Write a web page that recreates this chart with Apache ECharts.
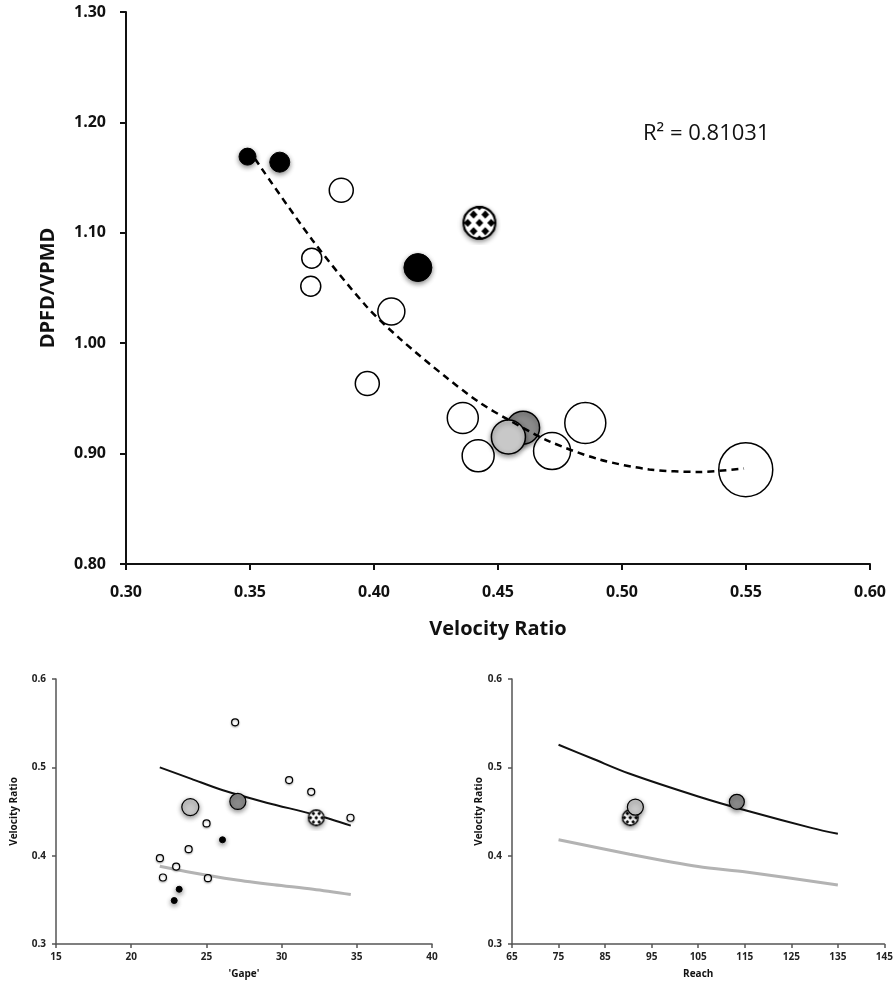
<!DOCTYPE html>
<html>
<head>
<meta charset="utf-8">
<script src="https://cdn.jsdelivr.net/npm/echarts@6/dist/echarts.min.js"></script>
<style>
html,body{margin:0;padding:0;background:#fff;}
#chart{width:896px;height:983px;}
</style>
</head>
<body>
<div id="chart"></div>
<script>
// ---------- DATA ----------
// Top panel: [Velocity Ratio, DPFD/VPMD, bubble size]
const topOpen = [[0.3868,1.1386,24],[0.3749,1.077,20],[0.3745,1.0516,20],[0.407,1.0287,27],[0.3973,0.9634,24],[0.4358,0.9322,31],[0.442,0.898,32],[0.4718,0.9023,37],[0.4852,0.9277,41],[0.5499,0.8854,54]];
const topBlack = [[0.349,1.169,17],[0.362,1.164,20],[0.4177,1.0685,28]];
const topDark = [[0.4601,0.9235,33]];
const topLight = [[0.4542,0.915,34]];
const topChecker = [[0.4425,1.109,33]];
const topTrend = [[0.352,1.167],[0.3752,1.0933],[0.3969,1.0335],[0.4103,1.0044],[0.4291,0.9691],[0.4425,0.9464],[0.4546,0.9301],[0.4707,0.9111],[0.4908,0.8948],[0.511,0.8857],[0.5311,0.8834],[0.5492,0.8866]];
const r2Text = 'R\u00B2 = 0.81031';

// Bottom-left: ['Gape', Velocity Ratio]
const gapeOpen = [[26.91,0.551],[30.5,0.4856],[31.97,0.4723],[34.58,0.4429],[25.01,0.4365],[23.82,0.4074],[21.91,0.3972],[22.99,0.3877],[22.11,0.3753],[25.1,0.3745]];
const gapeBlack = [[26.07,0.418],[23.19,0.362],[22.86,0.3492]];
const gapeDark = [[27.09,0.4614]];
const gapeLight = [[23.93,0.455]];
const gapeChecker = [[32.3,0.4429]];
const gapeUpper = [[21.9,0.500],[24,0.487],[26.1,0.474],[29,0.460],[32.3,0.446],[34.6,0.434]];
const gapeLower = [[21.9,0.388],[24,0.381],[26.8,0.373],[29.5,0.367],[32.1,0.362],[34.6,0.356]];

// Bottom-right: [Reach, Velocity Ratio]
const reachChecker = [[90.4,0.443]];
const reachLight = [[91.5,0.455]];
const reachDark = [[113.3,0.461]];
const reachUpper = [[75,0.5256],[82.5,0.5094],[90.3,0.4927],[105,0.467],[115.3,0.4511],[129.5,0.4312],[135,0.4247]];
const reachLower = [[75,0.418],[90.3,0.4017],[105,0.3877],[115.3,0.3816],[135,0.3669]];

// ---------- STYLE HELPERS ----------
const PAD = 5;
// checkered (diamond-pattern) circle marker image, with soft drop shadow
function checkerSymbol(d, period, step, r, lw){
  const S = d + PAD*2;
  const c = document.createElement('canvas');
  c.width = S; c.height = S;
  const g = c.getContext('2d');
  const cx = S/2, cy = S/2, R = d/2;
  g.save();
  g.shadowColor = 'rgba(0,0,0,0.45)'; g.shadowBlur = 5; g.shadowOffsetY = 2;
  g.beginPath(); g.arc(cx, cy, R, 0, Math.PI*2); g.fillStyle = '#fff'; g.fill();
  g.restore();
  g.save();
  g.beginPath(); g.arc(cx, cy, R, 0, Math.PI*2); g.clip();
  g.fillStyle = '#000';
  let row = 0;
  for (let y = cy - step*4; y < S + step; y += step, row++){
    const off = (row % 2) ? period/2 : 0;
    for (let x = cx - period*3 + off; x < S + period; x += period){
      g.beginPath(); g.moveTo(x, y-r*1.05); g.lineTo(x+r, y); g.lineTo(x, y+r*1.05); g.lineTo(x-r, y); g.closePath(); g.fill();
    }
  }
  g.restore();
  g.beginPath(); g.arc(cx, cy, R - lw/2, 0, Math.PI*2);
  g.lineWidth = lw; g.strokeStyle = '#000'; g.stroke();
  return 'image://' + c.toDataURL();
}
const checkBigSym = checkerSymbol(34, 11.7, 8.3, 3.9, 2.2);
const checkSmallSym = checkerSymbol(17, 5.8, 4.2, 1.9, 1.4);

const FONT = 'Open Sans';
const LIGHT = '#c8c8c8', DARK = '#8a8a8a';
const shadow = {shadowBlur:5, shadowColor:'rgba(0,0,0,0.45)', shadowOffsetY:2};

function axisCommon(big){
  return {
    axisLine:{show:true, lineStyle:{color: big?'#111':'#555', width: big?2:1.5}},
    axisTick:{show:true, length: big?6:4, lineStyle:{color: big?'#111':'#555', width: big?2:1.5}},
    splitLine:{show:false},
    nameLocation:'middle',
    nameTextStyle:{fontFamily:FONT, fontWeight:'bold', fontSize: big?20:10, color:'#111'},
  };
}

function scatter(name, data, xi, color, size, border, extra){
  return {
    name, type:'scatter', xAxisIndex:xi, yAxisIndex:xi, data,
    symbolSize: size,
    itemStyle: Object.assign({color, borderColor:'#000', borderWidth:border, opacity:1}, extra||{}),
    emphasis:{disabled:true}, z:2
  };
}
function checkerSeries(name, data, xi, sym, d){
  return {name, type:'scatter', xAxisIndex:xi, yAxisIndex:xi, data,
    symbol: sym, symbolSize: d + PAD*2, itemStyle:{opacity:1}, emphasis:{disabled:true}, z:2};
}
const bubble = v => v[2];

const option = {
  animation:false,
  backgroundColor:'#fff',
  grid:[
    {left:126, top:12, width:744, height:552},
    {left:56, top:679, width:376, height:265},
    {left:512, top:679, width:374, height:265}
  ],
  xAxis:[
    Object.assign(axisCommon(true), {gridIndex:0, type:'value', min:0.30, max:0.60, interval:0.05,
      name:'Velocity Ratio', nameGap:55,
      axisLabel:{formatter:v=>v.toFixed(2), fontFamily:FONT, fontWeight:'bold', fontSize:16, color:'#111', margin:20}}),
    Object.assign(axisCommon(false), {gridIndex:1, type:'value', min:15, max:40, interval:5,
      name:"'Gape'", nameGap:25,
      axisLabel:{fontFamily:FONT, fontWeight:'bold', fontSize:10, color:'#222', margin:8}}),
    Object.assign(axisCommon(false), {gridIndex:2, type:'value', min:65, max:145, interval:10,
      name:'Reach', nameGap:25,
      axisLabel:{fontFamily:FONT, fontWeight:'bold', fontSize:10, color:'#222', margin:8}})
  ],
  yAxis:[
    Object.assign(axisCommon(true), {gridIndex:0, type:'value', min:0.8, max:1.3, interval:0.1,
      name:'DPFD/VPMD', nameGap:68,
      axisLabel:{formatter:v=>v.toFixed(2), fontFamily:FONT, fontWeight:'bold', fontSize:16, color:'#111', margin:20}}),
    Object.assign(axisCommon(false), {gridIndex:1, type:'value', min:0.3, max:0.6, interval:0.1,
      name:'Velocity Ratio', nameGap:37,
      axisLabel:{formatter:v=>v.toFixed(1), fontFamily:FONT, fontWeight:'bold', fontSize:10, color:'#222', margin:10}}),
    Object.assign(axisCommon(false), {gridIndex:2, type:'value', min:0.3, max:0.6, interval:0.1,
      name:'Velocity Ratio', nameGap:28,
      axisLabel:{formatter:v=>v.toFixed(1), fontFamily:FONT, fontWeight:'bold', fontSize:10, color:'#222', margin:10}})
  ],
  graphic:[
    {type:'text', left:643, top:123, style:{text:r2Text, fontFamily:FONT, fontSize:22, fill:'#111'}}
  ],
  series:[
    // top panel
    scatter('open', topOpen, 0, '#fff', bubble, 1.5),
    scatter('black', topBlack, 0, '#000', bubble, 1, shadow),
    scatter('dark', topDark, 0, DARK, bubble, 1.5, shadow),
    scatter('light', topLight, 0, LIGHT, bubble, 1.5, shadow),
    checkerSeries('checker', topChecker, 0, checkBigSym, 34),
    {name:'trend', type:'line', xAxisIndex:0, yAxisIndex:0, data:topTrend, smooth:0.3, symbol:'none',
      lineStyle:{color:'#000', width:2.5, type:[7,5]}, z:5, emphasis:{disabled:true}},
    // bottom-left
    {name:'upperG', type:'line', xAxisIndex:1, yAxisIndex:1, data:gapeUpper, smooth:0.3, symbol:'none',
      lineStyle:{color:'#111', width:2}, z:1},
    {name:'lowerG', type:'line', xAxisIndex:1, yAxisIndex:1, data:gapeLower, smooth:0.3, symbol:'none',
      lineStyle:{color:'#b3b3b3', width:3}, z:1},
    scatter('openG', gapeOpen, 1, '#fff', 7, 1.2, {shadowBlur:2, shadowColor:'rgba(0,0,0,0.3)', shadowOffsetY:1}),
    scatter('blackG', gapeBlack, 1, '#000', 6, 1, shadow),
    scatter('darkG', gapeDark, 1, DARK, 16, 1.2, shadow),
    scatter('lightG', gapeLight, 1, LIGHT, 17, 1.2, shadow),
    checkerSeries('checkerG', gapeChecker, 1, checkSmallSym, 17),
    // bottom-right
    {name:'upperR', type:'line', xAxisIndex:2, yAxisIndex:2, data:reachUpper, smooth:0.3, symbol:'none',
      lineStyle:{color:'#111', width:2}, z:1},
    {name:'lowerR', type:'line', xAxisIndex:2, yAxisIndex:2, data:reachLower, smooth:0.3, symbol:'none',
      lineStyle:{color:'#b3b3b3', width:3}, z:1},
    checkerSeries('checkerR', reachChecker, 2, checkSmallSym, 17),
    scatter('lightR', reachLight, 2, LIGHT, 16, 1.2, shadow),
    scatter('darkR', reachDark, 2, DARK, 15, 1.2, shadow)
  ]
};
const chart = echarts.init(document.getElementById('chart'), null, {renderer:'canvas'});
chart.setOption(option);
</script>
</body>
</html>
